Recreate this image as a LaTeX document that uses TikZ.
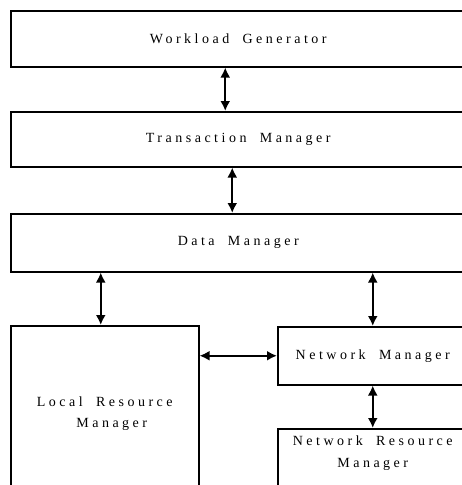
\documentclass[tikz,border=0pt]{standalone}
\usepackage{fontspec}
\setmainfont{Liberation Serif}
\newfontfamily\spacedfont[LetterSpace=25, WordSpace=1.9]{Liberation Serif}
\usetikzlibrary{arrows.meta, calc, positioning}

\tikzset{
  block/.style={draw, line width=1.5pt, anchor=north west, inner sep=0pt,
    font=\spacedfont\fontsize{14}{21}\selectfont, align=center},
  link/.style={<->, line width=2.2pt, >={Latex[length=10pt, width=10pt]}},
}

\begin{document}
\begin{tikzpicture}[x=1pt, y=1pt]
    \useasboundingbox (0,0) rectangle (462,-485);
    \clip (0,0) rectangle (462,-485);

    % upper layers
    \node[block, minimum width=455pt, minimum height=56pt] (wg) at (10,-10) {Workload Generator};
    \node[block, minimum width=455pt, minimum height=55pt] (tm) at (10,-111) {Transaction Manager};
    \node[block, minimum width=455pt, minimum height=58pt] (dm) at (10,-213) {Data Manager};

    % lower layers
    \node[block, minimum width=188pt, minimum height=175pt] (lrm) at (10,-325) {Local Resource\\ \hspace*{14pt}Manager};
    \node[block, minimum width=190pt, minimum height=58pt] (nm) at (277,-326) {Network Manager};
    \node[block, minimum width=190pt, minimum height=70pt] (nrm) at (277,-428) {};
    \node[font=\spacedfont\fontsize{14}{22}\selectfont, align=center, inner sep=0pt,
          below=8pt of nrm.north] (nrmlbl) {Network Resource\\ Manager};

    \draw[link] ([xshift=-13pt]wg.south) -- ([xshift=-13pt]tm.north);
    \draw[link] ([xshift=-6pt]tm.south) -- ([xshift=-6pt]dm.north);
    \draw[link] ($(dm.south -| lrm.north)+(-4,0)$) -- ([xshift=-4pt]lrm.north);
    \draw[link] (dm.south -| nm.north) -- (nm.north);
    \draw[link] (nm.west -| lrm.east) -- (nm.west);
    \draw[link] (nm.south) -- (nrm.north);
\end{tikzpicture}
\end{document}
